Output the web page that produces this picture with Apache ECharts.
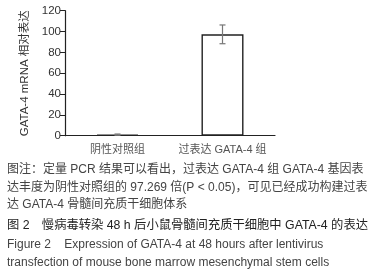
<!DOCTYPE html>
<html>
<head>
<meta charset="utf-8">
<script src="https://cdn.jsdelivr.net/npm/echarts@6/dist/echarts.min.js"></script>
<style>
  html, body { margin: 0; padding: 0; background: #fff; }
  #chart { width: 379px; height: 279px; }
</style>
</head>
<body>
<div id="chart"></div>
<script>
// 数据
const groups = ['阴性对照组', '过表达 GATA-4 组']
const means = [1, 97.3]
const errs = [0.6, 9]
const yTicks = [0, 120, 20] // min, max, interval

const captionLines = [
  '图注：定量 PCR 结果可以看出，过表达 GATA-4 组 GATA-4 基因表',
  '达丰度为阴性对照组的 97.269 倍(P < 0.05)，可见已经成功构建过表',
  '达 GATA-4 骨髓间充质干细胞体系',
]
const titleLine = '图 2　慢病毒转染 48 h 后小鼠骨髓间充质干细胞中 GATA-4 的表达'
const enLines = [
  'Figure 2    Expression of GATA-4 at 48 hours after lentivirus',
  'transfection of mouse bone marrow mesenchymal stem cells',
]

const font = '"Liberation Sans", "Noto Sans CJK SC", sans-serif'
const chart = echarts.init(document.getElementById('chart'), null, { renderer: 'canvas' })

const textEls = []
captionLines.forEach((t, i) => {
  textEls.push({
    type: 'text', left: 7, top: 164 + i * 17.5,
    style: { text: t, fill: '#444', font: `12px ${font}` },
  })
})
textEls.push({
  type: 'text', left: 7, top: 219.5,
  style: { text: titleLine, fill: '#222', font: `12.3px ${font}` },
})
enLines.forEach((t, i) => {
  textEls.push({
    type: 'text', left: 7, top: 238.5 + i * 18,
    style: { text: t, fill: '#444', font: `12px ${font}` },
  })
})

chart.setOption({
  animation: false,
  textStyle: { fontFamily: font },
  grid: { left: 65, right: 104, top: 10.7, bottom: 143.3 },
  xAxis: {
    type: 'category',
    data: groups,
    axisLine: { lineStyle: { color: '#222', width: 1.2 } },
    axisTick: { show: false },
    axisLabel: { color: '#555', fontSize: 11, margin: 9, interval: 0, hideOverlap: false },
  },
  yAxis: {
    type: 'value',
    min: yTicks[0], max: yTicks[1], interval: yTicks[2],
    name: 'GATA-4 mRNA 相对表达',
    nameLocation: 'middle',
    nameGap: 33,
    nameTextStyle: { color: '#333', fontSize: 11.5 },
    axisLine: { show: true, lineStyle: { color: '#222', width: 1.2 } },
    axisTick: { show: true, length: 5, lineStyle: { color: '#222' } },
    axisLabel: { color: '#333', fontSize: 11.5, margin: 4 },
    splitLine: { show: false },
  },
  series: [
    {
      type: 'bar',
      data: means,
      barWidth: '40%',
      itemStyle: { color: '#fff', borderColor: '#222', borderWidth: 1.4 },
    },
    {
      type: 'custom',
      data: means.map((m, i) => [i, m - errs[i], m + errs[i]]),
      renderItem: (params, api) => {
        const lo = api.coord([api.value(0), api.value(1)])
        const hi = api.coord([api.value(0), api.value(2)])
        const w = 3
        const st = { stroke: '#777', lineWidth: 1.2 }
        return {
          type: 'group',
          children: [
            { type: 'line', shape: { x1: hi[0], y1: hi[1], x2: lo[0], y2: lo[1] }, style: st },
            { type: 'line', shape: { x1: hi[0] - w, y1: hi[1], x2: hi[0] + w, y2: hi[1] }, style: st },
            { type: 'line', shape: { x1: lo[0] - w, y1: lo[1], x2: lo[0] + w, y2: lo[1] }, style: st },
          ],
        }
      },
      z: 3,
    },
  ],
  graphic: textEls,
})
</script>
</body>
</html>
